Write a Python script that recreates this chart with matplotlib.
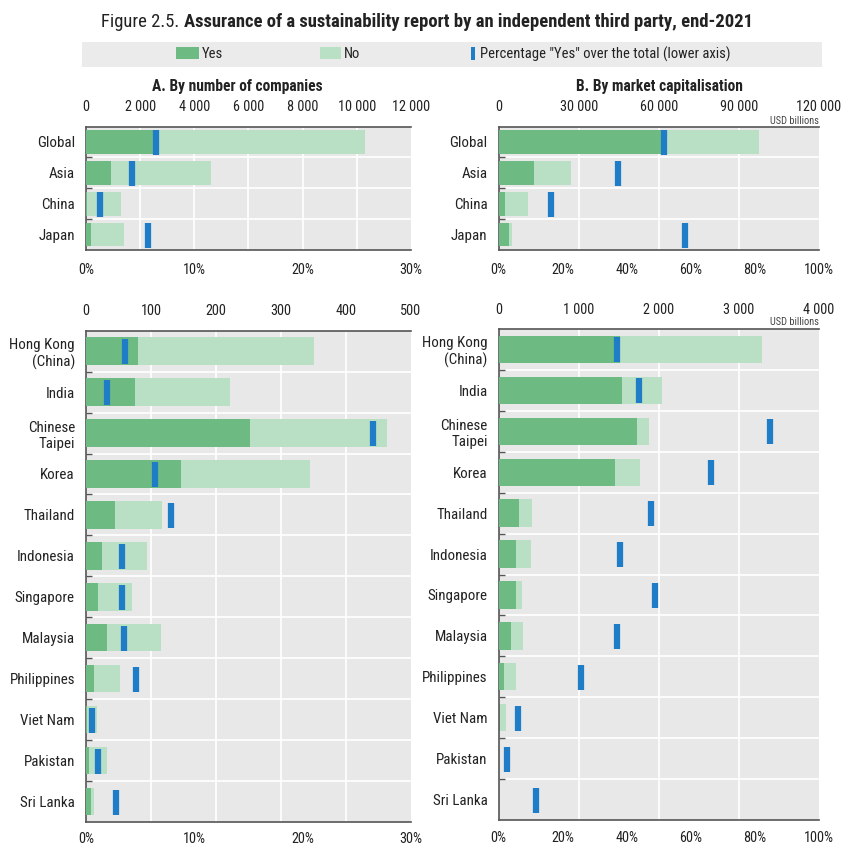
import matplotlib
matplotlib.use("Agg")
import matplotlib.pyplot as plt
from matplotlib import font_manager
from matplotlib.patches import Rectangle
import numpy as np

# ---------------- font choice (condensed if available) ----------------
entries = font_manager.fontManager.ttflist
names = {f.name for f in entries}
STRETCH = 'normal'
FONT = None
for cand in ['Roboto Condensed', 'Liberation Sans Narrow', 'Open Sans Condensed', 'Arial Narrow',
             'Noto Sans Condensed', 'DejaVu Sans Condensed']:
    if cand in names:
        FONT = cand
        break
if FONT is None:
    cond = [f for f in entries if str(f.stretch) in ('condensed', 'semi-condensed', '700', '600')]
    pref = [f for f in cond if f.name in ('Roboto', 'Noto Sans', 'Open Sans', 'DejaVu Sans', 'Liberation Sans')]
    if pref:
        FONT = pref[0].name
        STRETCH = 'condensed'
if FONT is None:
    FONT = 'Roboto' if 'Roboto' in names else 'Liberation Sans'
plt.rcParams['font.family'] = [FONT, 'DejaVu Sans']
plt.rcParams['font.stretch'] = STRETCH

# ---------------- data ----------------
top_cats = ["Global", "Asia", "China", "Japan"]
top_cnt_yes = [2620, 920, 40, 185]
top_cnt_total = [10300, 4620, 1290, 1400]
top_cnt_pct = [6.5, 4.25, 1.3, 5.7]
top_cap_yes = [62000, 13300, 2500, 4000]
top_cap_total = [97500, 27000, 11100, 5000]
top_cap_pct = [51.5, 37.2, 16.3, 58.1]

bot_cats = ["Hong Kong\n(China)", "India", "Chinese\nTaipei", "Korea", "Thailand", "Indonesia",
            "Singapore", "Malaysia", "Philippines", "Viet Nam", "Pakistan", "Sri Lanka"]
bot_cnt_yes = [80, 75, 253, 146, 45, 24, 18, 32, 12, 2, 5, 8]
bot_cnt_total = [350, 221, 463, 344, 117, 94, 71, 116, 53, 17, 33, 12]
bot_cnt_pct = [3.6, 1.9, 26.5, 6.4, 7.85, 3.35, 3.35, 3.55, 4.65, 0.55, 1.1, 2.75]
bot_cap_yes = [1515, 1545, 1723, 1452, 258, 212, 216, 150, 66, 5, 0, 0]
bot_cap_total = [3293, 2035, 1882, 1770, 420, 400, 291, 300, 216, 91, 8, 5]
bot_cap_pct = [37.0, 43.9, 84.6, 66.3, 47.7, 38.0, 48.9, 36.9, 25.8, 6.1, 2.7, 11.8]

cnt_top_ticks = [0, 2000, 4000, 6000, 8000, 10000, 12000]
cap_top_ticks = [0, 30000, 60000, 90000, 120000]
cnt_bot_ticks = [0, 100, 200, 300, 400, 500]
cap_bot_ticks = [0, 1000, 2000, 3000, 4000]
pct_ticks_left = [0, 10, 20, 30]
pct_ticks_right = [0, 20, 40, 60, 80, 100]

YES_C = "#6dbb83"
NO_C = "#b9dfc5"
BLUE = "#1f7cc7"
BG = "#e8e8e8"
SPINE = "#555555"
TXT = "#222222"
TICK_FS = 10.3
CAT_FS = 10.8

W, H = 844, 848
fig = plt.figure(figsize=(W / 100, H / 100), dpi=100)


def fx(px):
    return px / W


def fy(py):
    return 1 - py / H


def fmt(v):
    return f"{v:,}".replace(",", " ")


def panel(rect, cats, yes, total, pct, vmax, vticks, pmax, pticks, barh_frac, msize,
          usd=False, bpad=9.5):
    ax = fig.add_axes(rect)
    n = len(cats)
    y = np.arange(n)
    ax.set_facecolor(BG)
    ax.barh(y, total, height=barh_frac, color=NO_C, zorder=2)
    ax.barh(y, yes, height=barh_frac, color=YES_C, zorder=3)
    ax.set_xlim(0, vmax)
    ax.set_ylim(n - 0.5, -0.5)
    ax.set_yticks(y)
    ax.set_yticklabels(cats)
    ax.tick_params(axis='y', length=0, labelsize=CAT_FS, colors=TXT, pad=8)
    ax.set_yticks(np.arange(n - 1) + 0.5, minor=True)
    ax.tick_params(axis='y', which='minor', length=4, direction='in', color=SPINE, width=1)
    for yy in np.arange(n - 1) + 0.5:
        ax.axhline(yy, color='white', lw=1.2, zorder=1)
    for xv in vticks[1:-1]:
        ax.axvline(xv, color='white', lw=1.2, zorder=1)
    ax.spines['right'].set_visible(False)
    for s in ['top', 'left', 'bottom']:
        ax.spines[s].set_color(SPINE)
        ax.spines[s].set_linewidth(1.2)

    ax2 = ax.twiny()
    ax2.set_xlim(0, pmax)
    ax2.xaxis.tick_bottom()
    ax2.set_xticks(pticks)
    ax2.set_xticklabels([f"{p}%" for p in pticks])
    ax2.tick_params(axis='x', length=0, labelsize=TICK_FS, colors=TXT, pad=bpad)
    ax2.plot(pct, y, linestyle='none', marker='|', ms=msize, mew=4.5, color=BLUE, zorder=5)
    for s in ax2.spines.values():
        s.set_visible(False)
    ax2.set_ylim(n - 0.5, -0.5)

    # value axis on top (after twiny, which resets tick side)
    ax.xaxis.tick_top()
    ax.xaxis.set_label_position('top')
    ax.set_xticks(vticks)
    ax.set_xticklabels([fmt(v) for v in vticks])
    ax.tick_params(axis='x', which='both', top=True, bottom=False, labeltop=True, labelbottom=False,
                   length=0, labelsize=TICK_FS, colors=TXT, pad=9)
    if usd:
        ax.text(1.0, 1.004, "USD billions", transform=ax.transAxes, ha='right', va='bottom',
                fontsize=7.5, color="#444444")
    return ax


lw_ = fx(325)
rw_ = fx(320.3)
panel([fx(86), fy(250), lw_, (250 - 126.5) / H], top_cats, top_cnt_yes, top_cnt_total, top_cnt_pct,
      12000, cnt_top_ticks, 30, pct_ticks_left, 0.77, 18)
panel([fx(498.7), fy(250), rw_, (250 - 126.5) / H], top_cats, top_cap_yes, top_cap_total, top_cap_pct,
      120000, cap_top_ticks, 100, pct_ticks_right, 0.77, 18, usd=True)
panel([fx(86), fy(822), lw_, (822 - 330.7) / H], bot_cats, bot_cnt_yes, bot_cnt_total, bot_cnt_pct,
      500, cnt_bot_ticks, 30, pct_ticks_left, 0.67, 18, bpad=7)
panel([fx(498.7), fy(820), rw_, (820 - 329) / H], bot_cats, bot_cap_yes, bot_cap_total, bot_cap_pct,
      4000, cap_bot_ticks, 100, pct_ticks_right, 0.67, 18, usd=True, bpad=8)

# panel titles
fig.text(fx(237), fy(87), "A. By number of companies", ha='center', va='center', fontsize=11.2,
         fontweight='bold', color=TXT)
fig.text(fx(659), fy(87), "B. By market capitalisation", ha='center', va='center', fontsize=11.2,
         fontweight='bold', color=TXT)

# title (two parts), scaled to span the reference width
T_LEFT, T_RIGHT = 101, 756
fs = 14
t1 = fig.text(fx(T_LEFT), fy(22), "Figure 2.5. ", ha='left', va='center', fontsize=fs, color=TXT)
t2 = fig.text(0, fy(22), "Assurance of a sustainability report by an independent third party, end-2021",
              ha='left', va='center', fontsize=fs, fontweight='bold', color=TXT)
fig.canvas.draw()
r = fig.canvas.get_renderer()
w_total = t1.get_window_extent(r).width + t2.get_window_extent(r).width
fs2 = min(fs, fs * (T_RIGHT - T_LEFT) / w_total)
t1.set_fontsize(fs2)
t2.set_fontsize(fs2)
fig.canvas.draw()
bb = t1.get_window_extent(r)
t2.set_x(bb.x1 / W)

# legend band
fig.patches.append(Rectangle((fx(82), fy(66.7)), fx(822) - fx(82), (66.7 - 42.3) / H, transform=fig.transFigure,
                             facecolor="#ebebeb", edgecolor='none', zorder=0))
fig.patches.append(Rectangle((fx(176), fy(59.3)), fx(23), 12 / H, transform=fig.transFigure,
                             facecolor=YES_C, edgecolor='none'))
fig.text(fx(201.5), fy(54), "Yes", ha='left', va='center', fontsize=10.5, color=TXT)
fig.patches.append(Rectangle((fx(320), fy(59.3)), fx(21), 12 / H, transform=fig.transFigure,
                             facecolor=NO_C, edgecolor='none'))
fig.text(fx(343.5), fy(54), "No", ha='left', va='center', fontsize=10.5, color=TXT)
fig.patches.append(Rectangle((fx(471), fy(60)), fx(4), 13 / H, transform=fig.transFigure,
                             facecolor=BLUE, edgecolor='none'))
fig.text(fx(480.5), fy(54), 'Percentage "Yes" over the total (lower axis)', ha='left', va='center',
         fontsize=10.5, color=TXT)

fig.savefig("out.png", dpi=100)
